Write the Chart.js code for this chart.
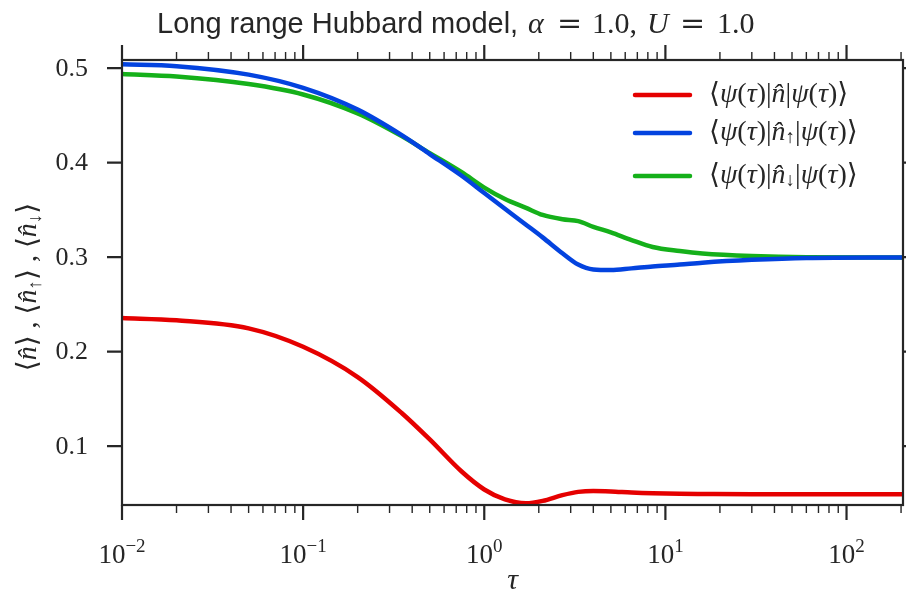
<!DOCTYPE html>
<html>
<head>
<meta charset="utf-8">
<script src="https://cdn.jsdelivr.net/npm/chart.js@4"></script>
<style>
html, body { margin: 0; padding: 0; background: #fff; }
#contenedor { width: 906px; height: 597px; }
</style>
</head>
<body>
<div id="contenedor"><canvas id="grafica"></canvas></div>
<script>
// Datos (tau en escala log)
var tau    = [0.01, 0.02, 0.05, 0.1, 0.2, 0.35, 0.5, 0.75, 1.0, 1.3, 1.7, 2.1, 2.7, 3.3, 4.0, 5.0, 6.5, 8.5, 12, 16, 30, 60, 205];
var nTotal = [0.2354, 0.233, 0.2245, 0.205, 0.173, 0.135, 0.107, 0.073, 0.054, 0.0435, 0.0395, 0.042, 0.048, 0.0515, 0.0525, 0.052, 0.0508, 0.050, 0.0495, 0.0493, 0.049, 0.049, 0.049];
var nUp    = [0.504, 0.502, 0.493, 0.479, 0.456, 0.429, 0.409, 0.386, 0.3677, 0.3511, 0.3342, 0.3208, 0.304, 0.292, 0.2868, 0.2862, 0.288, 0.290, 0.292, 0.294, 0.297, 0.299, 0.2996];
var nDown  = [0.4937, 0.491, 0.483, 0.472, 0.452, 0.428, 0.410, 0.3897, 0.3735, 0.3614, 0.352, 0.3445, 0.340, 0.338, 0.332, 0.326, 0.318, 0.3106, 0.3063, 0.3037, 0.301, 0.2998, 0.2996];

var ticksX = [0.01, 0.1, 1, 10, 100];
var exponentesX = ['\u22122', '\u22121', '0', '1', '2'];
var ticksY = [0.1, 0.2, 0.3, 0.4, 0.5];
var etiquetasY = ['0.1', '0.2', '0.3', '0.4', '0.5'];

var colores = ['#e50000', '#0343df', '#15b01a'];
var flechas = ['', '\u2191', '\u2193'];

var SERIF = '"Liberation Serif", "DejaVu Serif", serif';
var SANS = '"Liberation Sans", "DejaVu Sans", sans-serif';
var EJE = '#262626';

function puntos(valores) {
	var res = [];
	for (var i = 0; i < tau.length; i++) res.push({ x: tau[i], y: valores[i] });
	return res;
}

// texto con varias fuentes: [{t, f, dy}]
function anchoTexto(ctx, partes) {
	var w = 0;
	for (var i = 0; i < partes.length; i++) { ctx.font = partes[i].f; w += ctx.measureText(partes[i].t).width; }
	return w;
}
function dibujaTexto(ctx, partes, x, y) {
	for (var i = 0; i < partes.length; i++) {
		ctx.font = partes[i].f;
		ctx.fillText(partes[i].t, x, y + (partes[i].dy || 0));
		x += ctx.measureText(partes[i].t).width;
	}
}

function textoLeyenda(k) {
	var r = '28px ' + SERIF, it = 'italic 28px ' + SERIF, sub = '19px ' + SERIF;
	var p = [
		{ t: '\u27E8', f: r }, { t: '\u03C8', f: it }, { t: '(', f: r }, { t: '\u03C4', f: it }, { t: ')|', f: r },
		{ t: 'n\u0302', f: it }
	];
	if (flechas[k]) p.push({ t: flechas[k], f: sub, dy: 5 });
	p.push({ t: '|', f: r }, { t: '\u03C8', f: it }, { t: '(', f: r }, { t: '\u03C4', f: it }, { t: ')\u27E9', f: r });
	return p;
}

var ejesPlugin = {
	id: 'ejes',
	afterDatasetsDraw: function (chart) {
		var ctx = chart.ctx, a = chart.chartArea;
		var sx = chart.scales.x, sy = chart.scales.y;
		ctx.save();
		ctx.strokeStyle = EJE;
		ctx.fillStyle = EJE;
		ctx.lineWidth = 2.2;

		// marco
		ctx.strokeRect(a.left, a.top, a.right - a.left, a.bottom - a.top);

		// ticks x (mayores y menores), arriba y abajo hacia fuera
		for (var n = -2; n <= 2; n++) {
			for (var m = 1; m <= 9; m++) {
				var v = m * Math.pow(10, n);
				if (v > sx.max + 1e-9) continue;
				var px = sx.getPixelForValue(v);
				var largo = (m == 1) ? 15 : 8;
				ctx.lineWidth = (m == 1) ? 2.2 : 1.4;
				ctx.beginPath();
				ctx.moveTo(px, a.bottom); ctx.lineTo(px, a.bottom + largo);
				ctx.moveTo(px, a.top); ctx.lineTo(px, a.top - largo);
				ctx.stroke();
			}
		}
		// ticks y
		ctx.lineWidth = 2.2;
		for (var i = 0; i < ticksY.length; i++) {
			var py = sy.getPixelForValue(ticksY[i]);
			ctx.beginPath();
			ctx.moveTo(a.left, py); ctx.lineTo(a.left - 15, py);
			ctx.moveTo(a.right, py); ctx.lineTo(a.right + 15, py);
			ctx.stroke();
		}

		// etiquetas y
		ctx.textBaseline = 'middle';
		ctx.textAlign = 'right';
		ctx.font = '26px ' + SERIF;
		for (var i = 0; i < ticksY.length; i++) {
			ctx.fillText(etiquetasY[i], a.left - 34, sy.getPixelForValue(ticksY[i]) + 1);
		}

		// etiquetas x: 10^n
		ctx.textAlign = 'left';
		ctx.textBaseline = 'alphabetic';
		for (var i = 0; i < ticksX.length; i++) {
			var partes = [{ t: '10', f: '27px ' + SERIF }, { t: exponentesX[i], f: '19px ' + SERIF, dy: -11 }];
			var w = anchoTexto(ctx, partes);
			dibujaTexto(ctx, partes, sx.getPixelForValue(ticksX[i]) - w / 2, 563);
		}

		// etiqueta eje x
		ctx.textAlign = 'center';
		ctx.font = 'italic 30px ' + SERIF;
		ctx.fillText('\u03C4', (a.left + a.right) / 2, 589);

		// etiqueta eje y (girada)
		ctx.save();
		ctx.translate(36, 287);
		ctx.rotate(-Math.PI / 2);
		ctx.textAlign = 'left';
		var r = '28px ' + SERIF, it = 'italic 28px ' + SERIF, sub = '19px ' + SERIF;
		var ylab = [
			{ t: '\u27E8', f: r }, { t: 'n\u0302', f: it }, { t: '\u27E9 , \u27E8', f: r }, { t: 'n\u0302', f: it },
			{ t: '\u2191', f: sub, dy: 5 }, { t: '\u27E9 , \u27E8', f: r }, { t: 'n\u0302', f: it },
			{ t: '\u2193', f: sub, dy: 5 }, { t: '\u27E9', f: r }
		];
		dibujaTexto(ctx, ylab, -anchoTexto(ctx, ylab) / 2, 0);
		ctx.restore();

		// titulo: cada trozo en su sitio
		ctx.textAlign = 'left';
		var tit = [
			['Long range Hubbard model,', '29px ' + SANS, 157],
			['\u03B1', 'italic 30px ' + SERIF, 528],
			['=', '30px "DejaVu Serif", serif', 557],
			['1.0,', '30px ' + SERIF, 592],
			['U', 'italic 30px ' + SERIF, 647],
			['=', '30px "DejaVu Serif", serif', 680],
			['1.0', '30px ' + SERIF, 717]
		];
		for (var i = 0; i < tit.length; i++) {
			ctx.font = tit[i][1];
			ctx.fillText(tit[i][0], tit[i][2], 33);
		}

		// leyenda
		ctx.textBaseline = 'middle';
		var filasY = [95, 133, 176];
		for (var k = 0; k < 3; k++) {
			ctx.strokeStyle = colores[k];
			ctx.lineWidth = 4.5;
			ctx.lineCap = 'round';
			ctx.beginPath();
			ctx.moveTo(635, filasY[k]); ctx.lineTo(690, filasY[k]);
			ctx.stroke();
			ctx.fillStyle = EJE;
			dibujaTexto(ctx, textoLeyenda(k), 709, filasY[k]);
		}
		ctx.restore();
	}
};

var series = [nTotal, nUp, nDown];
var datasets = [];
for (var k = 0; k < series.length; k++) {
	datasets.push({
		data: puntos(series[k]),
		borderColor: colores[k],
		borderWidth: 4.5,
		pointRadius: 0,
		fill: false,
		cubicInterpolationMode: 'monotone'
	});
}

new Chart(document.getElementById('grafica'), {
	type: 'line',
	data: { datasets: datasets },
	options: {
		responsive: true,
		maintainAspectRatio: false,
		animation: false,
		layout: { padding: { left: 122, top: 60, right: 3, bottom: 92 } },
		plugins: { legend: { display: false }, tooltip: { enabled: false }, title: { display: false } },
		scales: {
			x: { type: 'logarithmic', min: 0.01, max: 205, display: false },
			y: { type: 'linear', min: 0.0376, max: 0.5085, display: false }
		}
	},
	plugins: [ejesPlugin]
});
</script>
</body>
</html>
